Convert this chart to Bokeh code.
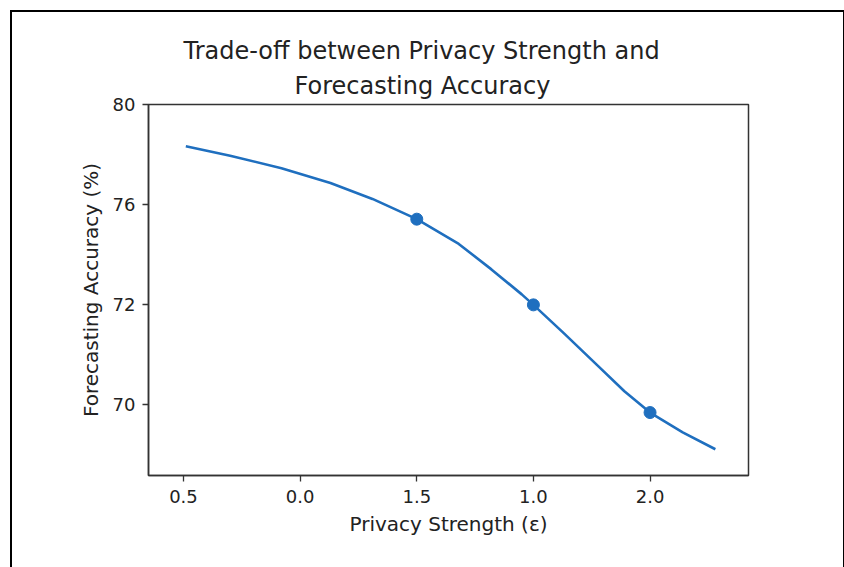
from bokeh.plotting import figure
from bokeh.models import FixedTicker, Range1d, Title, ColumnDataSource
from bokeh.embed import file_html
from bokeh.resources import INLINE

# ---- data ----
curve_eps = [0.51, 0.70, 0.92, 1.13, 1.31, 1.50, 1.68, 1.82, 1.95, 2.00, 2.13, 2.28, 2.39, 2.50, 2.64, 2.78]
curve_acc = [78.33, 77.95, 77.45, 76.86, 76.22, 75.41, 74.42, 73.40, 72.40, 71.98, 70.85, 69.51, 68.52, 67.67, 66.88, 66.20]
point_eps = [1.5, 2.0, 2.5]
point_acc = [75.41, 71.98, 67.67]
x_tick_pos = [0.5, 1.0, 1.5, 2.0, 2.5]
x_tick_labels = ["0.5", "0.0", "1.5", "1.0", "2.0"]
y_tick_pos = [80, 76, 72, 68]
y_tick_labels = ["80", "76", "72", "70"]
title_lines = ["Trade-off between Privacy Strength and", "Forecasting Accuracy"]
x_label = "Privacy Strength (\u03b5)"
y_label = "Forecasting Accuracy (%)"

FONT = "DejaVu Sans"
BLUE = "#1f6fbf"

p = figure(
    frame_width=600, frame_height=371,
    x_range=Range1d(0.35, 2.922), y_range=Range1d(65.15, 80.0),
    output_backend="svg", toolbar_location=None,
    min_border_left=136, min_border_right=95, min_border_top=92, min_border_bottom=93,
)
p.margin = (10, 0, 0, 10)
p.styles = {"border-left": "2px solid #000", "border-top": "2px solid #000", "border-right": "2px solid #000"}

p.background_fill_color = "white"
p.border_fill_color = "white"
p.grid.visible = False
p.outline_line_color = "#333333"
p.outline_line_width = 1.5

curve = ColumnDataSource(dict(x=curve_eps, y=curve_acc))
pts = ColumnDataSource(dict(x=point_eps, y=point_acc))
p.line("x", "y", source=curve, line_color=BLUE, line_width=2.6, line_join="round")
p.scatter("x", "y", source=pts, size=12, fill_color=BLUE, line_color=BLUE)

p.xaxis.ticker = FixedTicker(ticks=x_tick_pos)
p.xaxis.major_label_overrides = {v: s for v, s in zip(x_tick_pos, x_tick_labels)}
p.yaxis.ticker = FixedTicker(ticks=y_tick_pos)
p.yaxis.major_label_overrides = {v: s for v, s in zip(y_tick_pos, y_tick_labels)}

for ax in (p.xaxis[0], p.yaxis[0]):
    ax.axis_line_color = "#333333"
    ax.axis_line_width = 1.5
    ax.major_tick_line_color = "#333333"
    ax.major_tick_line_width = 1.3
    ax.major_tick_out = 6
    ax.major_tick_in = 0
    ax.minor_tick_line_color = None
    ax.major_label_text_font = FONT
    ax.major_label_text_font_size = "18px"
    ax.major_label_text_color = "#222222"
    ax.axis_label_text_font = FONT
    ax.axis_label_text_font_size = "20px"
    ax.axis_label_text_font_style = "normal"
    ax.axis_label_text_color = "#222222"

p.xaxis.axis_label = x_label
p.yaxis.axis_label = y_label
p.xaxis.major_label_standoff = 8
p.yaxis.major_label_standoff = 7
p.xaxis.axis_label_standoff = 6
p.yaxis.axis_label_standoff = 7

# two-line title; lower line added first (closest to the frame)
offsets = [35, 146]
standoffs = [0, 10]
for t, off, so in reversed(list(zip(title_lines, offsets, standoffs))):
    p.add_layout(Title(text=t, align="left", offset=off, text_font=FONT, text_font_size="24px",
                       text_font_style="normal", text_color="#222222", standoff=so), "above")

open("out.html", "w").write(file_html(p, INLINE))
